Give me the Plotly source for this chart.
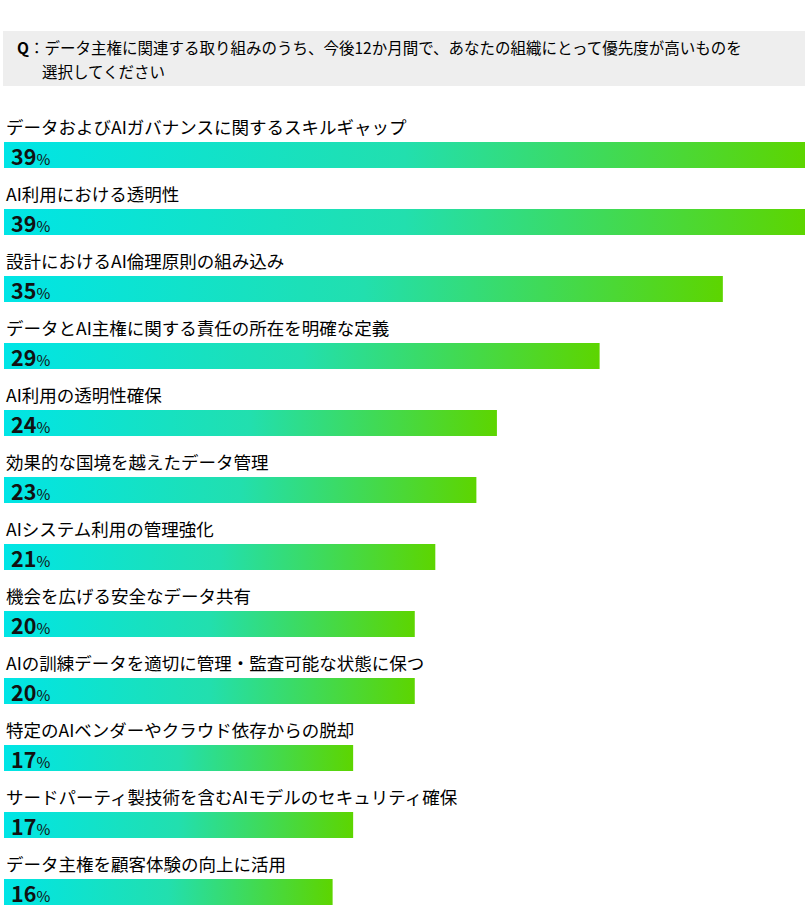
import plotly.graph_objects as go

question_line1 = "<b>Q</b>：データ主権に関連する取り組みのうち、今後12か月間で、あなたの組織にとって優先度が高いものを"
question_line2 = "選択してください"

categories = [
    "データおよびAIガバナンスに関するスキルギャップ",
    "AI利用における透明性",
    "設計におけるAI倫理原則の組み込み",
    "データとAI主権に関する責任の所在を明確な定義",
    "AI利用の透明性確保",
    "効果的な国境を越えたデータ管理",
    "AIシステム利用の管理強化",
    "機会を広げる安全なデータ共有",
    "AIの訓練データを適切に管理・監査可能な状態に保つ",
    "特定のAIベンダーやクラウド依存からの脱却",
    "サードパーティ製技術を含むAIモデルのセキュリティ確保",
    "データ主権を顧客体験の向上に活用",
]
values = [39, 39, 35, 29, 24, 23, 21, 20, 20, 17, 17, 16]

gradient = [[0, "#00e5e6"], [0.5, "#22dfae"], [1, "#5dd500"]]
FONT = "Noto Sans CJK JP"
half = 0.195

fig = go.Figure()
for i, (cat, v) in enumerate(zip(categories, values)):
    fig.add_trace(go.Scatter(
        x=[0, v, v, 0, 0],
        y=[i - half, i - half, i + half, i + half, i - half],
        mode="lines", line=dict(width=0),
        fill="toself",
        fillgradient=dict(type="horizontal", colorscale=gradient),
        hoverinfo="skip", showlegend=False,
    ))
    fig.add_annotation(
        x=0, y=i - 0.42, xref="x", yref="y", text=cat, showarrow=False,
        xanchor="left", yanchor="middle", xshift=0,
        font=dict(family=FONT, size=17.5, color="#000000"),
    )
    fig.add_annotation(
        x=0, y=i + 0.0, xref="x", yref="y",
        text=f"<b>{v}</b><span style='font-size:15px'>%</span>",
        showarrow=False, xanchor="left", yanchor="middle", xshift=5,
        font=dict(family=FONT, size=21.5, color="#111111"),
    )

# question box
fig.add_shape(type="rect", xref="paper", yref="paper",
              x0=3 / 809, x1=805 / 809, y0=1 - 86 / 922, y1=1 - 31 / 922,
              fillcolor="#eeeeee", line=dict(width=0), layer="below")
fig.add_annotation(xref="paper", yref="paper", x=15 / 809, y=1 - 47 / 922,
                   text=question_line1, showarrow=False, xanchor="left", yanchor="middle",
                   font=dict(family=FONT, size=15.5, color="#000000"))
fig.add_annotation(xref="paper", yref="paper", x=40 / 809, y=1 - 71 / 922,
                   text=question_line2, showarrow=False, xanchor="left", yanchor="middle",
                   font=dict(family=FONT, size=15.5, color="#000000"))

px_per = (805 - 4) / 39
fig.update_layout(
    width=809, height=922,
    margin=dict(l=0, r=0, t=0, b=0),
    paper_bgcolor="white", plot_bgcolor="white",
    xaxis=dict(range=[-4 / px_per, (809 - 4) / px_per], visible=False, fixedrange=True),
    yaxis=dict(range=[(922 - 155) / 67, -155 / 67], visible=False, fixedrange=True),
)
fig.write_html("out.html")
